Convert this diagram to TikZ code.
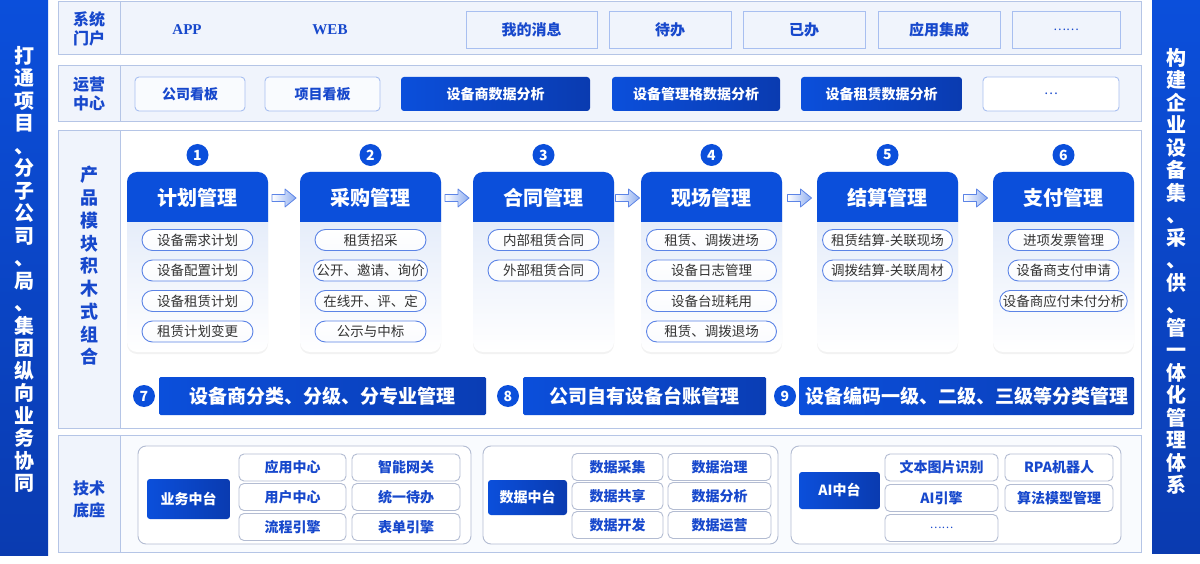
\documentclass[tikz,border=0pt]{standalone}
\usepackage{fontspec}
\setmainfont{Noto Sans CJK SC}
\newfontfamily\lser{Liberation Serif}
\usetikzlibrary{shadows}
\definecolor{dblue}{HTML}{0B4FDB}
\definecolor{dblue2}{HTML}{0A3BB0}
\definecolor{tblue}{HTML}{1748CC}
\definecolor{lfill}{HTML}{F0F4FC}
\definecolor{lborder}{HTML}{B5C5E6}
\definecolor{bborder}{HTML}{A8BFF0}
\definecolor{pborder}{HTML}{5C84E6}
\definecolor{gborder}{HTML}{B3BCD2}
\definecolor{cardtop}{HTML}{DCE6F8}
\definecolor{ptext}{HTML}{333333}
\definecolor{arrowc}{HTML}{8FAEF0}
\tikzset{
  sidetxt/.style={text=white, font=\fontsize{20}{22.5}\selectfont\bfseries, inner sep=0pt, align=center, anchor=north},
  rowlab/.style={text=tblue, font=\fontsize{16}{19}\selectfont\bfseries, align=center, inner sep=0pt},
  rowbox/.style={draw=lborder, line width=1pt, fill=lfill},
  topbox/.style={draw=bborder, line width=0.9pt, fill=lfill, text=tblue, font=\fontsize{15}{15}\selectfont\bfseries, minimum height=37pt, inner sep=0pt},
  kanban/.style={draw=bborder, line width=0.9pt, fill=white!60!lfill, rounded corners=4pt, text=tblue, font=\fontsize{14}{14}\selectfont\bfseries, minimum height=34pt, inner sep=0pt},
  bluebox/.style={left color=dblue, right color=dblue2, rounded corners=3pt, text=white, font=\fontsize{14}{14}\selectfont\bfseries, inner sep=0pt},
  cardbody/.style={rounded corners=10pt, top color=cardtop, bottom color=white, minimum width=141pt, minimum height=180pt, inner sep=0pt, drop shadow={opacity=0.10, shadow xshift=0pt, shadow yshift=-2pt}},
  cardtitle/.style={text=white, font=\fontsize{20}{20}\selectfont\bfseries, inner sep=0pt},
  pill/.style={draw=pborder, line width=0.9pt, rounded corners=10.5pt, top color=white, bottom color=white!85!cardtop, minimum height=21pt, inner xsep=3pt, inner ysep=0pt, text=ptext, font=\fontsize{13.5}{13.5}\selectfont},
  numc/.style={circle, fill=dblue, text=white, minimum size=22pt, inner sep=0pt, font=\fontsize{14}{14}\selectfont\bfseries},
  bar/.style={left color=dblue, right color=dblue2!90!dblue, rounded corners=1.5pt, text=white, font=\fontsize{19}{19}\selectfont\bfseries, minimum height=38pt, inner sep=0pt},
  grp/.style={draw=gborder, line width=0.9pt, rounded corners=8pt, fill=white},
  sub/.style={draw=gborder, line width=0.9pt, rounded corners=5pt, fill=white, text=tblue, font=\fontsize{14}{14}\selectfont\bfseries, minimum height=27pt, inner sep=0pt},
  darrow/.pic={
    \path[draw=pborder, line width=0.8pt, left color=white, right color=arrowc, line join=round]
      (-12,-3.5) -- (1,-3.5) -- (1,-9) -- (12,0) -- (1,9) -- (1,3.5) -- (-12,3.5) -- cycle;
  }
}
\begin{document}
\begin{tikzpicture}[x=1pt,y=-1pt]
\useasboundingbox (0,0) rectangle (1200,564);
\fill[white] (0,0) rectangle (1200,564);

% side bars
\fill[top color=dblue, bottom color=dblue2] (0,0) rectangle (48,555);
\fill[top color=dblue, bottom color=dblue2] (1152,0) rectangle (1200,553);
\node[sidetxt] (Ltxt) at (24,46) {打\\通\\项\\目\\、\\分\\子\\公\\司\\、\\局\\、\\集\\团\\纵\\向\\业\\务\\协\\同};
\node[sidetxt] (Rtxt) at (1176,48) {构\\建\\企\\业\\设\\备\\集\\、\\采\\、\\供\\、\\管\\一\\体\\化\\管\\理\\体\\系};

% ---------- row 1: 系统门户
\path[rowbox] (58,2) rectangle (1141,55);
\path[rowbox] (58,2) rectangle (120,55);
\node[rowlab] (lab1) at (89,28.5) {系统\\门户};
\node[text=tblue, font=\lser\fontsize{15}{15}\selectfont\bfseries] (app) at (187,30) {APP};
\node[text=tblue, font=\lser\fontsize{15}{15}\selectfont\bfseries] (web) at (330,30) {WEB};
\node[topbox, minimum width=131pt] (msg) at (531.5,29.5) {我的消息};
\node[topbox, minimum width=122pt] (todo) at (670,29.5) {待办};
\node[topbox, minimum width=122pt] (done) at (804,29.5) {已办};
\node[topbox, minimum width=122pt] (integ) at (939,29.5) {应用集成};
\node[topbox, minimum width=108pt, font=\fontsize{12}{12}\selectfont] (more1) at (1066,29.5) {……};

% ---------- row 2: 运营中心
\path[rowbox] (58,66) rectangle (1141,122);
\path[rowbox] (58,66) rectangle (120,122);
\node[rowlab] (lab2) at (89,94) {运营\\中心};
\node[kanban, minimum width=110pt] (k1) at (190,94) {公司看板};
\node[kanban, minimum width=115pt] (k2) at (322.5,94) {项目看板};
\node[bluebox, minimum width=189pt, minimum height=34pt] (k3) at (495.5,94) {设备商数据分析};
\node[bluebox, minimum width=168pt, minimum height=34pt] (k4) at (696,94) {设备管理格数据分析};
\node[bluebox, minimum width=161pt, minimum height=34pt] (k5) at (881.5,94) {设备租赁数据分析};
\node[kanban, minimum width=136pt, fill=white, font=\fontsize{13}{13}\selectfont] (k6) at (1051,94) {…};

% ---------- row 3: 产品模块积木式组合
\path[draw=lborder, line width=1pt, fill=white] (58,131) rectangle (1141,428);
\path[rowbox] (58,131) rectangle (120,428);
\node[text=tblue, font=\fontsize{18}{22.75}\selectfont\bfseries, inner sep=0pt, align=center] (plab) at (89,266) {产\\品\\模\\块\\积\\木\\式\\组\\合};

% cards
\foreach \cx/\t/\n in {197.5/计划管理/1, 370.5/采购管理/2, 543.5/合同管理/3, 711.5/现场管理/4, 887.5/结算管理/5, 1063.5/支付管理/6}{
  \node[cardbody] (card\n) at (\cx,262) {};
  \begin{scope}
    \clip (\cx-71,170) rectangle (\cx+71,222);
    \fill[dblue, rounded corners=10pt] (\cx-70.5,172) rectangle (\cx+70.5,250);
  \end{scope}
  \node[cardtitle] (title\n) at (\cx,198) {\t};
  \node[numc] (num\n) at (\cx,155) {\n};
}
% pills
\foreach \c [count=\i] in {设备需求计划,设备配置计划,设备租赁计划,租赁计划变更}
  \node[pill, minimum width=111pt] (pa\i) at (197.5,{240+30.5*(\i-1)}) {\c};
\foreach \c [count=\i] in {租赁招采,公开、邀请、询价,在线开、评、定,公示与中标}
  \node[pill, minimum width=111pt] (pb\i) at (370.5,{240+30.5*(\i-1)}) {\c};
\foreach \c [count=\i] in {内部租赁合同,外部租赁合同}
  \node[pill, minimum width=111pt] (pc\i) at (543.5,{240+30.5*(\i-1)}) {\c};
\foreach \c [count=\i] in {租赁、调拨进场,设备日志管理,设备台班耗用,租赁、调拨退场}
  \node[pill, minimum width=130pt] (pd\i) at (711.5,{240+30.5*(\i-1)}) {\c};
\foreach \c [count=\i] in {租赁结算-关联现场,调拨结算-关联周材}
  \node[pill, minimum width=130pt] (pe\i) at (887.5,{240+30.5*(\i-1)}) {\c};
\foreach \c [count=\i] in {进项发票管理,设备商支付申请,设备商应付未付分析}
  \node[pill, minimum width=111pt] (pf\i) at (1063.5,{240+30.5*(\i-1)}) {\c};
% arrows between cards
\foreach \x in {284,457,627.5,799.5,975.5}
  \pic at (\x,198) {darrow};

% bars 7-9
\node[numc] (num7) at (144,396) {7};
\node[bar, minimum width=327pt] (bar7) at (322.5,396) {设备商分类、分级、分专业管理};
\node[numc] (num8) at (508,396) {8};
\node[bar, minimum width=243pt] (bar8) at (644.5,396) {公司自有设备台账管理};
\node[numc] (num9) at (785,396) {9};
\node[bar, minimum width=335pt] (bar9) at (966.5,396) {设备编码一级、二级、三级等分类管理};

% ---------- row 4: 技术底座
\path[draw=lborder, line width=1pt, fill=white!60!lfill] (58,435) rectangle (1141,552);
\path[rowbox] (58,435) rectangle (120,552);
\node[rowlab, font=\fontsize{16}{22}\selectfont\bfseries] (lab4) at (89,499) {技术\\底座};

\path[grp] (138,446) rectangle (471,544);
\path[grp] (483,446) rectangle (778,544);
\path[grp] (791,446) rectangle (1121,544);

\node[bluebox, minimum width=83pt, minimum height=40pt] (g1) at (188.5,499) {业务中台};
\node[sub, minimum width=107pt] (g1a) at (292.5,467.5) {应用中心};
\node[sub, minimum width=108pt] (g1b) at (406,467.5) {智能网关};
\node[sub, minimum width=107pt] (g1c) at (292.5,497) {用户中心};
\node[sub, minimum width=108pt] (g1d) at (406,497) {统一待办};
\node[sub, minimum width=107pt] (g1e) at (292.5,527) {流程引擎};
\node[sub, minimum width=108pt] (g1f) at (406,527) {表单引擎};

\node[bluebox, minimum width=79pt, minimum height=35pt] (g2) at (527.5,497.5) {数据中台};
\node[sub, minimum width=91pt] (g2a) at (617.5,467) {数据采集};
\node[sub, minimum width=103pt] (g2b) at (719.5,467) {数据治理};
\node[sub, minimum width=91pt] (g2c) at (617.5,496) {数据共享};
\node[sub, minimum width=103pt] (g2d) at (719.5,496) {数据分析};
\node[sub, minimum width=91pt] (g2e) at (617.5,525) {数据开发};
\node[sub, minimum width=103pt] (g2f) at (719.5,525) {数据运营};

\node[bluebox, minimum width=81pt, minimum height=37pt] (g3) at (839.5,490.5) {AI中台};
\node[sub, minimum width=113pt] (g3a) at (941.5,467.5) {文本图片识别};
\node[sub, minimum width=108pt] (g3b) at (1059,467.5) {RPA机器人};
\node[sub, minimum width=113pt] (g3c) at (941.5,498) {AI引擎};
\node[sub, minimum width=108pt] (g3d) at (1059,498) {算法模型管理};
\node[sub, minimum width=113pt, font=\fontsize{11}{11}\selectfont] (g3e) at (941.5,528) {……};
\end{tikzpicture}
\end{document}
